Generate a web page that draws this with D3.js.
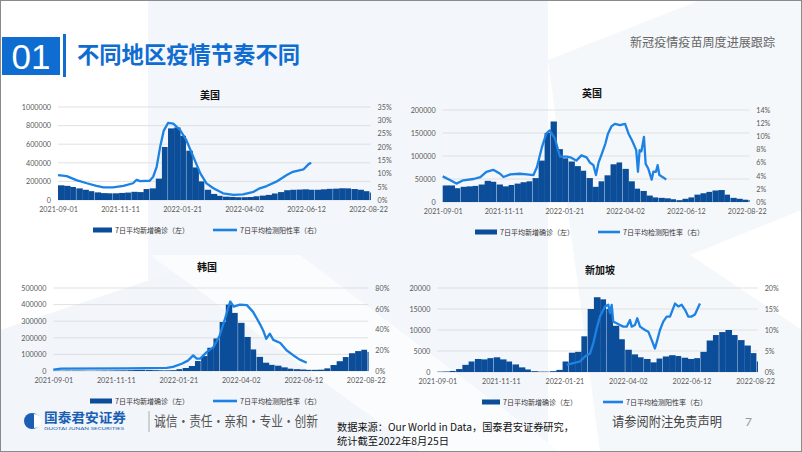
<!DOCTYPE html>
<html><head><meta charset="utf-8">
<script src="https://cdn.jsdelivr.net/npm/d3@7"></script>
<style>body{margin:0;background:#fff}svg{display:block}</style>
</head><body><svg id="c" width="802" height="452"></svg>
<script>
// ---------- DATA ----------
const startDate = "2021-09-01";
const endDate = "2022-08-25";
const xTickLabels = ["2021-09-01","2021-11-11","2022-01-21","2022-04-02","2022-06-12","2022-08-22"];
const caseLegend = "7日平均新增确诊（左）";
const rateLegend = "7日平均检测阳性率（右）";

// weekly 7-day-average new cases (week starting 2021-09-01 + 7*i)
const usCases = [158000,152000,140000,125000,110000,95000,82000,74000,72000,72000,76000,80000,88000,85000,118000,125000,230000,570000,770000,780000,690000,530000,350000,200000,110000,65000,45000,36000,33000,30000,30000,32000,40000,47000,55000,70000,85000,105000,110000,112000,115000,110000,110000,115000,120000,122000,126000,125000,118000,110000,95000,80000];
const ukCases = [36000,36000,30000,33000,34000,35000,38000,46000,44000,38000,34000,37000,40000,43000,45000,52000,90000,150000,175000,115000,95000,88000,78000,68000,52000,33000,45000,58000,82000,86000,72000,45000,29000,24000,14000,10000,9000,8000,6000,4000,7000,10000,16000,19000,22000,25000,26000,16000,9000,7000,5000,4500];
const krCases = [2000,2000,2500,2500,2500,1800,1800,2200,2800,3000,3500,4000,5000,6500,7000,6000,5000,4000,4000,5000,11000,18000,30000,60000,90000,140000,196000,295000,400000,350000,290000,205000,130000,85000,50000,37000,32000,22000,14000,11000,9000,7000,7000,8000,16000,36000,59000,84000,107000,120000,128000,115000];
const sgCases = [80,120,250,700,1700,2500,3100,3000,3300,3500,3000,2500,1800,1100,600,200,90,80,200,500,2500,4600,4800,8500,15000,17800,17300,15000,11000,7800,5300,4200,3500,3100,2300,3200,3700,4000,3800,3400,3100,3300,4800,7500,8800,9500,10000,8800,7600,6300,4500,2500];

// 7-day-average test positivity rate (%), day offset from 2021-09-01
const usRateDay = [0,10,21,33,44,52,63,75,86,90,94,105,109,113,117,121,126,132,140,147,155,163,170,178,189,201,212,224,231,239,250,262,269,281,287,290];
const usRate = [9.4,9.0,7.5,6.3,5.3,4.75,4.75,5.3,6.3,7.6,7.1,7.25,8.75,12.5,20,26,29,28.75,26.25,22.5,16.25,10,6.25,4.4,2.5,1.9,2.1,3.1,4.4,5.25,6.9,9.4,10.6,11.5,13.5,14];
const ukRateDay = [0,9,16,24,36,44,51,59,67,71,79,90,98,106,110,116,121,125,131,137,145,149,156,162,168,172,176,179,182,186,190,193,197,201,207,213,217,221,226,228,230,232,235,237,240,244,246,249,251,253,258,261];
const ukRate = [3.9,3.3,2.8,3.3,3.5,3.8,4.6,4.9,4.3,3.8,4.2,4.3,4.2,4.1,5.3,8.4,10.4,10.9,9.7,6.9,6.9,6.8,6.3,7.1,6.8,6.0,5.6,4.1,6.0,7.4,8.9,10.4,11.5,11.9,11.7,11.9,10.4,9.4,7.9,4.6,7.9,7.7,9.9,5.8,5.1,3.4,4.6,4.6,5.6,4.1,3.7,3.4];
const krRateDay = [0,9,83,129,136,146,153,159,163,167,174,182,189,195,201,205,212,220,227,235,239,242,246,250,258,265,273,280,288];
const krRate = [1.3,2.3,2.5,3,3.9,7,10,15,12,12,18,23,34,50,67,62,64,63.5,57,45,38,31,36,30,27,20,15,11,8];
const sgRateDay = [144.6,152,159.4,165,170.6,174.3,178.1,181.8,187.4,191.1,193,194.9,196.6,200.4,204.1,207.8,211.6,215.3,217.2,220.9,223.5,226.5,232.1,235.8,239.6,243.2,245.8,248.8,252.5,256.3,260,265.6,269.3,273.1,276.8,280.4,284.2,287.9,293.5];
const sgRate = [1.7,2.1,2.5,3.7,4.4,6.8,10.4,13.2,15.6,16,14,16,12,11.6,11.2,10.8,10.8,12.4,10.8,11.2,12.8,10.8,10,9.6,7.6,5.6,7.6,10,12,13.2,13.2,16.3,15.6,16,14.8,13.2,13.2,13.7,16.3];

const usLeftTicks = [0,200000,400000,600000,800000,1000000];
const usRightTicks = [0,5,10,15,20,25,30,35];
const ukLeftTicks = [0,50000,100000,150000,200000];
const ukRightTicks = [0,2,4,6,8,10,12,14];
const krLeftTicks = [0,100000,200000,300000,400000,500000];
const krRightTicks = [0,20,40,60,80];
const sgLeftTicks = [0,5000,10000,15000,20000];
const sgRightTicks = [0,5,10,15,20];

// ---------- STYLE ----------
const BAR = "#0b4d98", LINE = "#1c82e4", BLUE = "#0f6cd0";
const FONT = "Lato, 'Noto Sans CJK SC', sans-serif";
const CJK = "'Noto Sans CJK SC', sans-serif";

const svg = d3.select("#c");
const parse = d3.timeParse("%Y-%m-%d");
const t0 = parse(startDate), t1 = parse(endDate);

// background
svg.append("rect").attr("width",802).attr("height",452).attr("fill","#fff");
const bg = svg.append("g");
bg.append("polygon").attr("points","148,0 548,0 548,452 148,452").attr("fill","#f3f6fa");
bg.append("polygon").attr("points","548,60 802,-40 802,452 600,452").attr("fill","#f5f8fb");
bg.append("polygon").attr("points","0,330 240,250 420,452 0,452").attr("fill","#f2f5f9");
bg.append("polygon").attr("points","690,255 802,210 802,330").attr("fill","#ffffff");
bg.append("polygon").attr("points","150,255 300,255 560,452 420,452").attr("fill","#fbfcfe");

// header
svg.append("rect").attr("x",2).attr("y",37).attr("width",58).attr("height",38).attr("fill",BLUE);
svg.append("text").attr("x",31).attr("y",69).attr("text-anchor","middle").attr("fill","#fff")
  .attr("font-family","'Liberation Sans Narrow','Liberation Sans',sans-serif").attr("font-size",35).text("01");
svg.append("rect").attr("x",63).attr("y",34).attr("width",3).attr("height",43).attr("fill",BLUE);
svg.append("text").attr("x",77).attr("y",63).attr("fill",BLUE).attr("font-family",CJK)
  .attr("font-weight","bold").attr("font-size",23).attr("textLength",223).attr("lengthAdjust","spacingAndGlyphs")
  .text("不同地区疫情节奏不同");
svg.append("text").attr("x",775).attr("y",47).attr("text-anchor","end").attr("fill","#666")
  .attr("font-family",CJK).attr("font-size",12.5).attr("textLength",145).attr("lengthAdjust","spacingAndGlyphs")
  .text("新冠疫情疫苗周度进展跟踪");

// charts
const panels = [
  {title:"美国", cases:usCases, rd:usRateDay, r:usRate, lt:usLeftTicks, rt:usRightTicks,
   xa:58, xb:368, y0:200, y1:107, tx:210, ty:99, legY:230, lb:93, lbw:19, ll:213, llw:24},
  {title:"英国", cases:ukCases, rd:ukRateDay, r:ukRate, lt:ukLeftTicks, rt:ukRightTicks,
   xa:442.7, xb:746.7, y0:202, y1:110, tx:592, ty:97, legY:232, lb:475, lbw:22, ll:598, llw:22},
  {title:"韩国", cases:krCases, rd:krRateDay, r:krRate, lt:krLeftTicks, rt:krRightTicks,
   xa:53.3, xb:365.7, y0:371, y1:288, tx:207, ty:271, legY:401, lb:90, lbw:22, ll:213, llw:24},
  {title:"新加坡", cases:sgCases, rd:sgRateDay, r:sgRate, lt:sgLeftTicks, rt:sgRightTicks,
   xa:437.3, xb:755, y0:372, y1:288, tx:600, ty:274, legY:402, lb:482, lbw:18, ll:603, llw:20},
];

panels.forEach(p => {
  const totalDays = d3.timeDay.count(t0, t1);
  const refDays = d3.timeDay.count(t0, parse(xTickLabels[xTickLabels.length-1]));
  const xEnd = p.xa + (p.xb - p.xa) * totalDays / refDays;
  const x = d3.scaleTime().domain([t0, t1]).range([p.xa, xEnd]);
  const yL = d3.scaleLinear().domain([0, d3.max(p.lt)]).range([p.y0, p.y1]);
  const yR = d3.scaleLinear().domain([0, d3.max(p.rt)]).range([p.y0, p.y1]);
  const g = svg.append("g");

  // grid
  g.append("g").selectAll("line").data(p.lt).join("line")
    .attr("x1", p.xa).attr("x2", xEnd).attr("y1", d => yL(d)).attr("y2", d => yL(d))
    .attr("stroke", "#d9d9d9").attr("stroke-width", 0.8);

  // axes
  const ax = g.append("g").attr("transform", `translate(${p.xa},0)`)
    .call(d3.axisLeft(yL).tickValues(p.lt).tickFormat(d3.format("d")).tickSize(0).tickPadding(7));
  const ar = g.append("g").attr("transform", `translate(${xEnd},0)`)
    .call(d3.axisRight(yR).tickValues(p.rt).tickFormat(d => d + "%").tickSize(0).tickPadding(7));
  const ab = g.append("g").attr("transform", `translate(0,${p.y0})`)
    .call(d3.axisBottom(x).tickValues(xTickLabels.map(parse)).tickFormat(d3.timeFormat("%Y-%m-%d")).tickSize(0).tickPadding(7));
  [ax, ar, ab].forEach(a => {
    a.select(".domain").remove();
    a.selectAll("text").attr("font-family", FONT).attr("font-size", 7.2).attr("fill", "#595959");
  });

  // bars
  g.append("g").selectAll("rect").data(p.cases).join("rect")
    .attr("x", (d, i) => x(d3.timeDay.offset(t0, i * 7)))
    .attr("width", (d, i) => Math.max(0, Math.min(x(d3.timeDay.offset(t0, i * 7 + 7)), xEnd) - x(d3.timeDay.offset(t0, i * 7)) + (i % 3 === 2 ? -0.4 : 0.3)))
    .attr("y", d => yL(d)).attr("height", d => yL(0) - yL(d))
    .attr("fill", BAR);

  // line
  const pts = p.rd.map((d, i) => [x(t0.getTime() + d * 864e5), yR(p.r[i])]);
  g.append("path").datum(pts).attr("d", d3.line()).attr("fill", "none")
    .attr("stroke", LINE).attr("stroke-width", 2.3).attr("stroke-linejoin", "round");

  // title
  g.append("text").attr("x", p.tx).attr("y", p.ty).attr("text-anchor", "middle")
    .attr("font-family", CJK).attr("font-weight", "bold").attr("font-size", 10).attr("fill", "#111").text(p.title);

  // legend
  g.append("rect").attr("x", p.lb).attr("y", p.legY - 2.5).attr("width", p.lbw).attr("height", 5).attr("fill", BAR);
  g.append("text").attr("x", p.lb + p.lbw + 3).attr("y", p.legY + 2.5).attr("font-family", CJK)
    .attr("font-size", 7).attr("fill", "#333").text(caseLegend);
  g.append("rect").attr("x", p.ll).attr("y", p.legY - 1.3).attr("width", p.llw).attr("height", 2.6).attr("fill", LINE);
  g.append("text").attr("x", p.ll + p.llw + 3).attr("y", p.legY + 2.5).attr("font-family", CJK)
    .attr("font-size", 7).attr("fill", "#333").text(rateLegend);
});

// footer
const f = svg.append("g");
f.append("circle").attr("cx", 32).attr("cy", 421).attr("r", 8).attr("fill", "#1a5fb4");
f.append("path").attr("d", "M34,414 A7,7 0 0 1 34,428 Z").attr("fill", "#fff");
f.append("text").attr("x", 44).attr("y", 422).attr("font-family", CJK).attr("font-weight", "bold")
  .attr("font-size", 13).attr("fill", "#1a5fb4").attr("textLength", 82).attr("lengthAdjust", "spacingAndGlyphs").text("国泰君安证券");
f.append("text").attr("x", 44).attr("y", 429.5).attr("font-family", FONT).attr("font-size", 4)
  .attr("fill", "#1a5fb4").attr("textLength", 80).attr("lengthAdjust", "spacingAndGlyphs").text("GUOTAI JUNAN SECURITIES");
f.append("line").attr("x1", 149).attr("x2", 149).attr("y1", 411).attr("y2", 432).attr("stroke", "#999").attr("stroke-width", 0.8);
f.append("text").attr("x", 154).attr("y", 426).attr("font-family", CJK).attr("font-size", 14)
  .attr("fill", "#555").attr("textLength", 164).attr("lengthAdjust", "spacingAndGlyphs").text("诚信·责任·亲和·专业·创新");
f.append("text").attr("x", 337).attr("y", 431).attr("font-family", CJK).attr("font-size", 10.5)
  .attr("fill", "#111").attr("textLength", 237).attr("lengthAdjust", "spacingAndGlyphs").text("数据来源：Our World in Data，国泰君安证券研究，");
f.append("text").attr("x", 337).attr("y", 445).attr("font-family", CJK).attr("font-size", 10.5)
  .attr("fill", "#111").attr("textLength", 112).attr("lengthAdjust", "spacingAndGlyphs").text("统计截至2022年8月25日");
f.append("text").attr("x", 612).attr("y", 426).attr("font-family", CJK).attr("font-size", 13)
  .attr("fill", "#444").attr("textLength", 110).attr("lengthAdjust", "spacingAndGlyphs").text("请参阅附注免责声明");
f.append("text").attr("x", 745).attr("y", 426).attr("font-family", FONT).attr("font-size", 12).attr("fill", "#999").text("7");

// border
svg.append("rect").attr("x", 0.5).attr("y", 0.5).attr("width", 801).attr("height", 451)
  .attr("fill", "none").attr("stroke", "#8a8a8a").attr("stroke-width", 1);
</script></body></html>
